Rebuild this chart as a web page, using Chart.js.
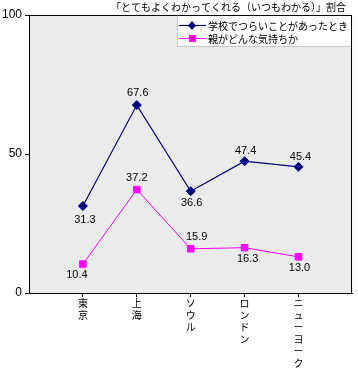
<!DOCTYPE html>
<html><head><meta charset="utf-8">
<script src="https://cdn.jsdelivr.net/npm/chart.js@4/dist/chart.umd.min.js"></script>
<style>html,body{margin:0;padding:0;background:#fff;}canvas{display:block;}</style>
</head><body>
<canvas id="c" width="358" height="370"></canvas>
<script>
const titleText = '「とてもよくわかってくれる（いつもわかる）」割合';
const categories = ['東京', '上海', 'ソウル', 'ロンドン', 'ニューヨーク'];
const seriesNames = ['学校でつらいことがあったとき', '親がどんな気持ちか'];
const schoolValues = [31.3, 67.6, 36.6, 47.4, 45.4];
const feelingValues = [10.4, 37.2, 15.9, 16.3, 13.0];
const yTicks = [0, 50, 100];

// label placement (style only)
const schoolLabelPos = [[2, 14], [1, -12], [1, 12], [1, -10], [2, -10]];
const feelingLabelPos = [[-6, 11], [0, -12], [6, -12], [3, 11], [1, 11]];

// pad with empty slots so points sit at 1/6 ... 5/6 of the width
const labels = ['', ...categories, ''];
const pad = arr => [null, ...arr, null];

const FONT = "'Noto Sans CJK JP', 'Noto Sans', sans-serif";
const NUMFONT = "'Liberation Sans', 'DejaVu Sans', sans-serif";

const plotPlugin = {
  id: 'plotDecor',
  beforeDraw(chart) {
    const {ctx, chartArea: a} = chart;
    ctx.save();
    ctx.fillStyle = '#ebebeb';
    ctx.fillRect(a.left, a.top, a.right - a.left, a.bottom - a.top);
    ctx.restore();
  },
  afterDraw(chart) {
    const {ctx, chartArea: a} = chart;
    ctx.save();
    ctx.strokeStyle = '#000';
    ctx.lineWidth = 1;
    ctx.strokeRect(Math.round(a.left) + 0.5, Math.round(a.top) + 0.5, Math.round(a.right - a.left) - 1, Math.round(a.bottom - a.top));
    // title
    ctx.fillStyle = '#000';
    ctx.font = '10px ' + FONT;
    ctx.textAlign = 'right';
    ctx.textBaseline = 'middle';
    ctx.fillText(titleText, 346, 7);
    // legend
    const lx = 177, ly = 15, lw = 174, lh = 31;
    ctx.fillStyle = '#fff';
    ctx.fillRect(lx, ly + 1, lw, lh);
    ctx.strokeStyle = '#c8c8c8';
    ctx.beginPath();
    ctx.moveTo(lx + 0.5, ly + 1); ctx.lineTo(lx + 0.5, ly + lh + 0.5); ctx.lineTo(lx + lw, ly + lh + 0.5);
    ctx.stroke();
    chart.data.datasets.forEach((ds, i) => {
      const y = 25 + i * 13;
      ctx.strokeStyle = ds.borderColor;
      ctx.lineWidth = ds.borderWidth;
      ctx.beginPath(); ctx.moveTo(179, y + 0.5); ctx.lineTo(206, y + 0.5); ctx.stroke();
      ctx.fillStyle = ds.pointBackgroundColor;
      ctx.beginPath();
      if (ds.pointStyle === 'rect') {
        ctx.fillRect(189, y - 3, 7, 7);
      } else {
        ctx.moveTo(192, y - 4); ctx.lineTo(196, y + 0.5); ctx.lineTo(192, y + 5); ctx.lineTo(188, y + 0.5); ctx.closePath(); ctx.fill();
      }
      ctx.fillStyle = '#000';
      ctx.font = '10px ' + FONT;
      ctx.textAlign = 'left';
      ctx.textBaseline = 'middle';
      ctx.fillText(ds.label, 208, y + 1);
    });
    // value labels
    ctx.font = '11px ' + NUMFONT;
    ctx.textAlign = 'center';
    ctx.textBaseline = 'middle';
    ctx.fillStyle = '#000';
    chart.data.datasets.forEach((ds, i) => {
      const meta = chart.getDatasetMeta(i);
      meta.data.forEach((pt, j) => {
        const v = ds.data[j];
        if (v === null || v === undefined) return;
        const off = ds.labelPos[j - 1];
        ctx.fillText(v.toFixed(1), pt.x + off[0], pt.y + off[1]);
      });
    });
    ctx.restore();
  }
};

new Chart(document.getElementById('c'), {
  type: 'line',
  data: {
    labels: labels,
    datasets: [
      {
        label: seriesNames[0], data: pad(schoolValues), labelPos: schoolLabelPos,
        borderColor: '#000080', backgroundColor: '#000080', borderWidth: 1.2,
        pointStyle: 'rectRot', pointRadius: 4.5, pointBackgroundColor: '#000080', pointBorderColor: '#000080', pointBorderWidth: 1,
        tension: 0, spanGaps: false
      },
      {
        label: seriesNames[1], data: pad(feelingValues), labelPos: feelingLabelPos,
        borderColor: '#ff00ff', backgroundColor: '#ff00ff', borderWidth: 1,
        pointStyle: 'rect', pointRadius: 4.6, pointBackgroundColor: '#ff00ff', pointBorderColor: '#ff00ff', pointBorderWidth: 1,
        tension: 0, spanGaps: false
      }
    ]
  },
  options: {
    responsive: false,
    animation: false,
    layout: {padding: {top: 15, right: 5, left: 0, bottom: 0}},
    plugins: {legend: {display: false}, title: {display: false}, tooltip: {enabled: false}},
    scales: {
      x: {
        type: 'category',
        offset: false,
        afterFit(s) { s.height = 77; },
        border: {display: true, color: '#000', width: 1},
        grid: {drawOnChartArea: false, drawTicks: true, tickLength: 4,
               color: ctx => (ctx.index === 0 || ctx.index === labels.length - 1) ? 'rgba(0,0,0,0)' : '#000'},
        ticks: {
          autoSkip: false, maxRotation: 0, minRotation: 0, padding: 0, color: '#000',
          font: {family: FONT, size: 10, lineHeight: 1.2},
          callback(v, i) { const l = labels[i]; return l ? Array.from(l) : ''; }
        }
      },
      y: {
        min: 0, max: 100,
        afterFit(s) { s.width = 29; },
        afterBuildTicks(s) { s.ticks = yTicks.map(v => ({value: v})); },
        border: {display: true, color: '#000', width: 1},
        grid: {drawOnChartArea: false, drawTicks: true, tickLength: 4, color: '#000'},
        ticks: {color: '#000', padding: 3, font: {family: NUMFONT, size: 12}}
      }
    }
  },
  plugins: [plotPlugin]
});
</script>
</body></html>
